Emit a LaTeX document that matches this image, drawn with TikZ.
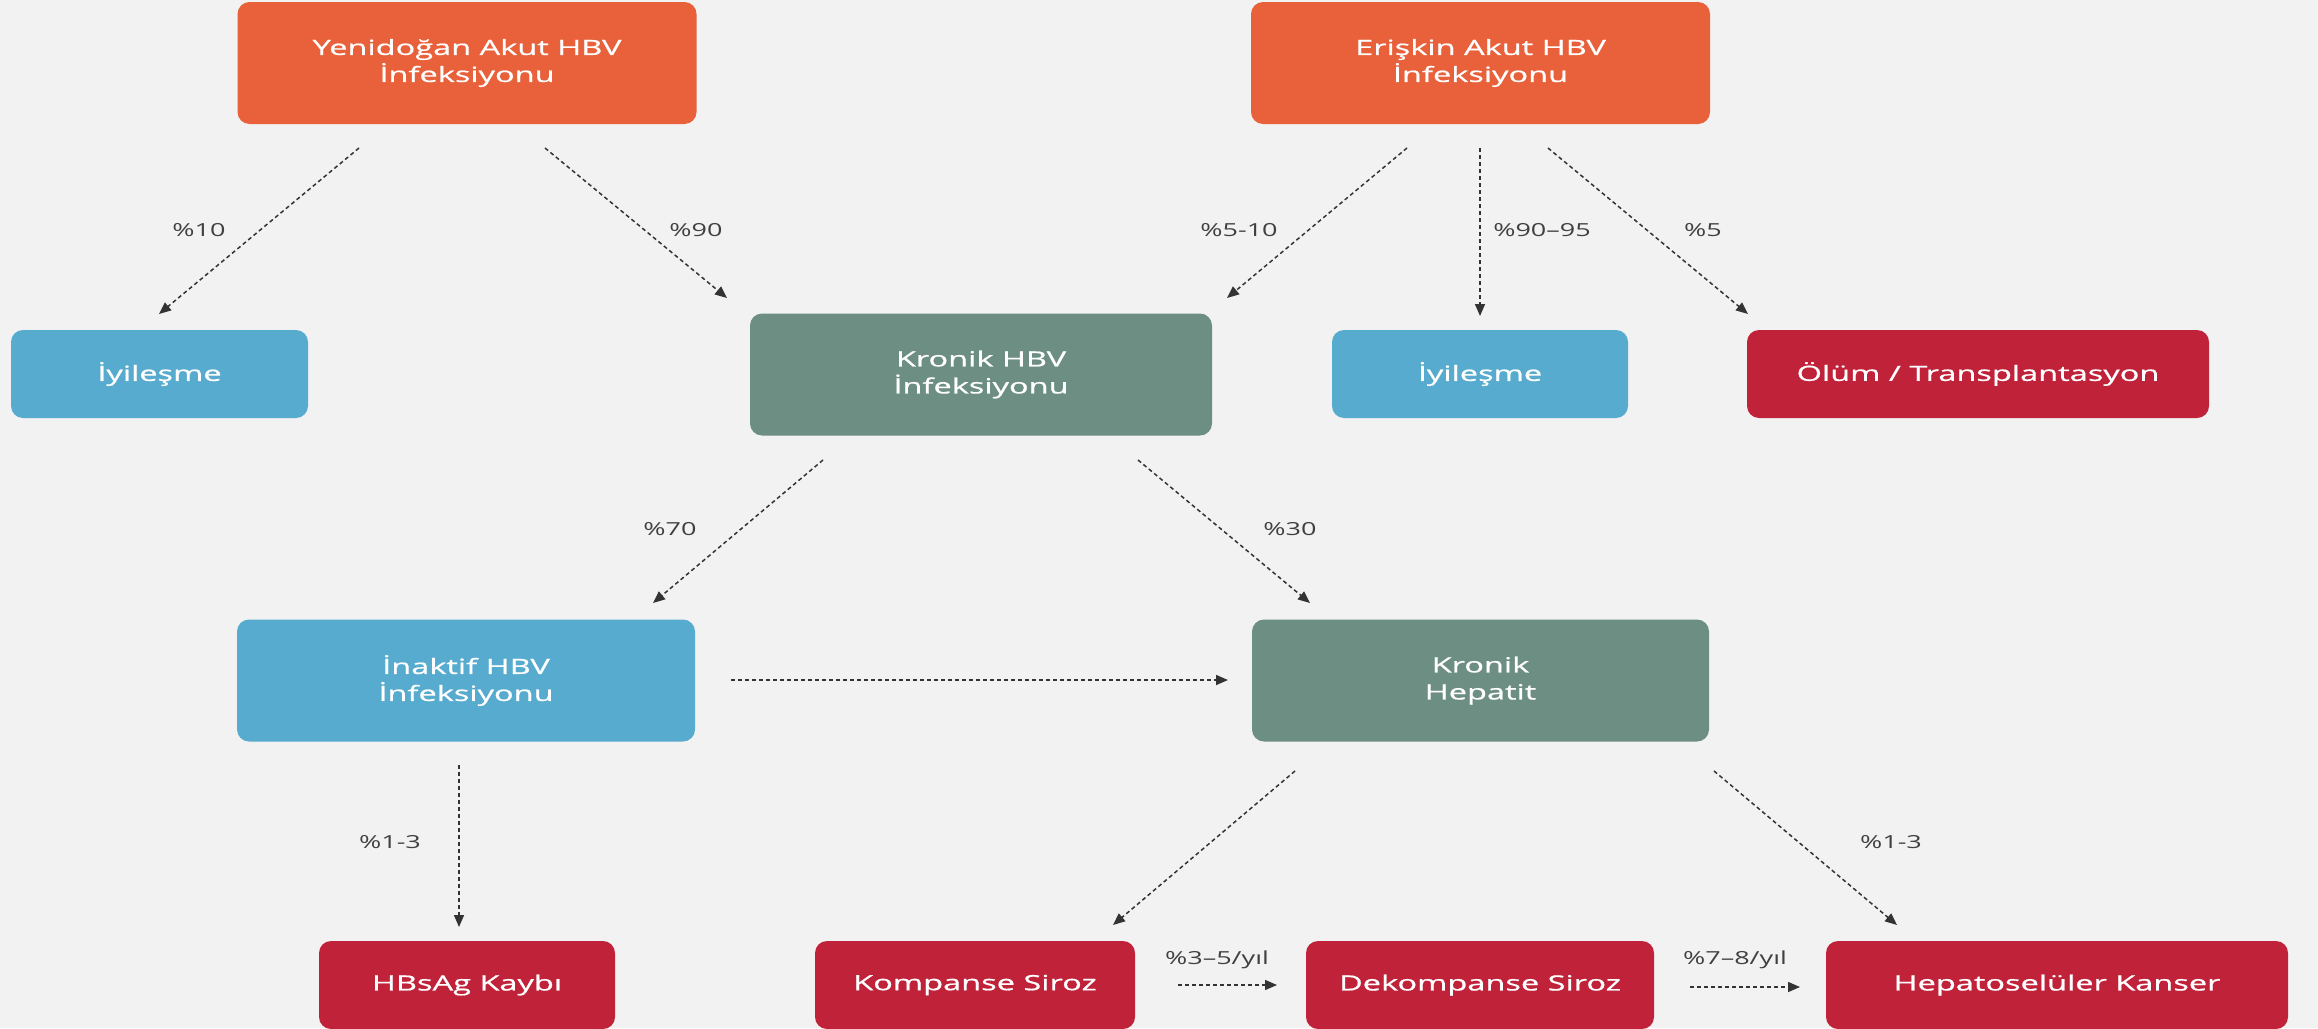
\documentclass[tikz,border=0pt]{standalone}
\usepackage{fontspec}
\setmainfont{Open Sans}[FakeStretch=1.5]
\newfontfamily\boxfont{Open Sans}[FakeStretch=1.55, FakeBold=0.8]
\usetikzlibrary{arrows.meta}
\definecolor{bgc}{HTML}{F2F2F2}
\definecolor{orangec}{HTML}{E8613A}
\definecolor{bluec}{HTML}{56ABCE}
\definecolor{greenc}{HTML}{6D8E83}
\definecolor{redc}{HTML}{C0223A}
\definecolor{arrc}{HTML}{333333}
\definecolor{labc}{HTML}{404040}
\begin{document}
\begin{tikzpicture}[x=1pt,y=-1pt,
  box/.style={rectangle, rounded corners=12pt, text=white, align=center, inner sep=0pt, font=\boxfont\fontsize{21}{27}\selectfont},
  tallbox/.style={box, minimum height=122pt},
  flatbox/.style={box, minimum height=88pt},
  conn/.style={draw=arrc, line width=1.5pt, dash pattern=on 4pt off 3pt, -{Triangle[length=12pt,width=10pt]}},
  lab/.style={text=labc, inner sep=0pt, font=\fontsize{18}{22}\selectfont}
]
\useasboundingbox[fill=bgc] (0,0) rectangle (2318,1028);

% boxes
\node[tallbox, fill=orangec, minimum width=459pt] (yeni) at (467,63) {Yenidoğan Akut HBV\\İnfeksiyonu};
\node[tallbox, fill=orangec, minimum width=459pt] (eris) at (1480.5,63) {Erişkin Akut HBV\\İnfeksiyonu};
\node[flatbox, fill=bluec, minimum width=297pt] (iyi1) at (159.5,374) {İyileşme};
\node[tallbox, fill=greenc, minimum width=462pt] (kron) at (981,374.5) {Kronik HBV\\İnfeksiyonu};
\node[flatbox, fill=bluec, minimum width=296pt] (iyi2) at (1480,374) {İyileşme};
\node[flatbox, fill=redc, minimum width=462pt] (olum) at (1978,374) {Ölüm / Transplantasyon};
\node[tallbox, fill=bluec, minimum width=458pt] (inak) at (466,680.5) {İnaktif HBV\\İnfeksiyonu};
\node[tallbox, fill=greenc, minimum width=457pt] (hep) at (1480.5,680.5) {Kronik\\Hepatit};
\node[flatbox, fill=redc, minimum width=296pt] (hbs) at (467,985) {HBsAg Kaybı};
\node[flatbox, fill=redc, minimum width=320pt] (komp) at (975,985) {Kompanse Siroz};
\node[flatbox, fill=redc, minimum width=348pt] (dek) at (1480,985) {Dekompanse Siroz};
\node[flatbox, fill=redc, minimum width=462pt] (hcc) at (2057,985) {Hepatoselüler Kanser};

% connector end points
\coordinate (a1s) at (359,148); \coordinate (a1e) at (159,314);
\coordinate (a2s) at (545,148); \coordinate (a2e) at (727,298);
\coordinate (a3s) at (1407,148); \coordinate (a3e) at (1227,298);
\coordinate (a4s) at (1480,148); \coordinate (a4e) at (1480,316);
\coordinate (a5s) at (1548,148); \coordinate (a5e) at (1748,314);
\coordinate (a6s) at (823,460); \coordinate (a6e) at (653,603);
\coordinate (a7s) at (1138,460); \coordinate (a7e) at (1310,603);
\coordinate (a8s) at (731,680); \coordinate (a8e) at (1228,680);
\coordinate (a9s) at (459,765); \coordinate (a9e) at (459,927);
\coordinate (b1s) at (1295,771); \coordinate (b1e) at (1113,925);
\coordinate (b2s) at (1714,771); \coordinate (b2e) at (1897,925);
\coordinate (b3s) at (1178,985); \coordinate (b3e) at (1277,985);
\coordinate (b4s) at (1690,987); \coordinate (b4e) at (1800,987);

\draw[conn] (a1s) -- (a1e);
\draw[conn] (a2s) -- (a2e);
\draw[conn] (a3s) -- (a3e);
\draw[conn] (a4s) -- (a4e);
\draw[conn] (a5s) -- (a5e);
\draw[conn] (a6s) -- (a6e);
\draw[conn] (a7s) -- (a7e);
\draw[conn] (a8s) -- (a8e);
\draw[conn] (a9s) -- (a9e);
\draw[conn] (b1s) -- (b1e);
\draw[conn] (b2s) -- (b2e);
\draw[conn] (b3s) -- (b3e);
\draw[conn] (b4s) -- (b4e);

% labels
\node[lab] (l1) at (199,230) {\%10};
\node[lab] (l2) at (696,230) {\%90};
\node[lab] (l3) at (1239,230) {\%5-10};
\node[lab] (l4) at (1542,230) {\%90–95};
\node[lab] (l5) at (1703,230) {\%5};
\node[lab] (l6) at (670,529) {\%70};
\node[lab] (l7) at (1290,529) {\%30};
\node[lab] (l8) at (390,842) {\%1-3};
\node[lab] (l9) at (1891,842) {\%1-3};
\node[lab] (l10) at (1217,960) {\%3–5/yıl};
\node[lab] (l11) at (1735,960) {\%7–8/yıl};
\end{tikzpicture}
\end{document}
